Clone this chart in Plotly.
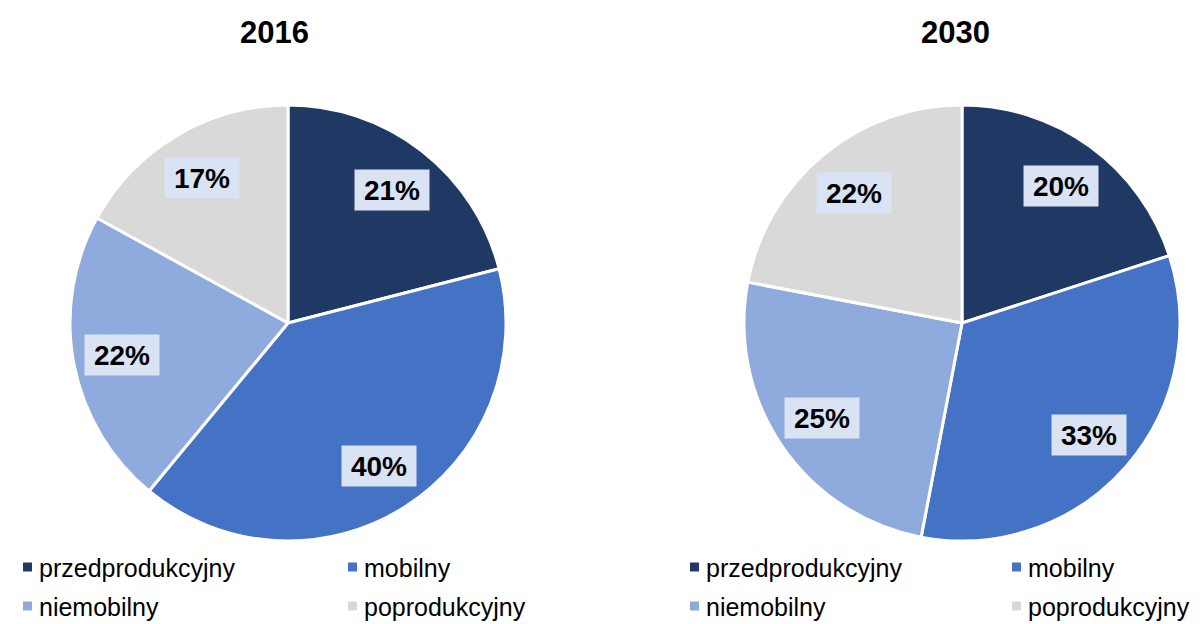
import math
import plotly.graph_objects as go

# ---- data ----
categories = ["przedprodukcyjny", "mobilny", "niemobilny", "poprodukcyjny"]
years = ["2016", "2030"]
values_2016 = [21, 40, 22, 17]
values_2030 = [20, 33, 25, 22]
colors = ["#203864", "#4472C4", "#8FAADC", "#D9D9D9"]
series = [values_2016, values_2030]

# ---- layout constants (screen pixels; page has 8px body margin) ----
OFF = 8
W, H = 1202 - OFF, 624 - OFF
R = 218
centers = [(288 - OFF, 323 - OFF), (962 - OFF, 323 - OFF)]
title_x = [274 - OFF, 955 - OFF]
title_y = 32 - OFF
label_ratio = 0.775
legend_cols = [[23 - OFF, 348 - OFF], [690 - OFF, 1012 - OFF]]
legend_rows = [567 - OFF, 606 - OFF]
FONT = "Liberation Sans, Arial, sans-serif"

fig = go.Figure()
annotations = []
shapes = []

for i, (vals, yr) in enumerate(zip(series, years)):
    cx, cy = centers[i]
    fig.add_trace(go.Pie(
        labels=categories,
        values=vals,
        sort=False,
        direction="clockwise",
        rotation=0,
        marker=dict(colors=colors, line=dict(color="white", width=3)),
        textinfo="none",
        hoverinfo="label+percent",
        showlegend=False,
        domain=dict(x=[(cx - R) / W, (cx + R) / W],
                    y=[1 - (cy + R) / H, 1 - (cy - R) / H]),
    ))
    # slice labels with boxes
    total = sum(vals)
    cum = 0
    for v in vals:
        mid = (cum + v / 2) / total * 2 * math.pi
        cum += v
        px = cx + label_ratio * R * math.sin(mid)
        py = cy - label_ratio * R * math.cos(mid)
        annotations.append(dict(
            x=px / W, y=1 - py / H, xref="paper", yref="paper",
            text=f"<b>{round(v / total * 100)}%</b>", showarrow=False,
            font=dict(family=FONT, size=28, color="#000000"),
            bgcolor="#DAE3F3", width=72, height=38,
            xanchor="center", yanchor="middle",
        ))
    # title
    annotations.append(dict(
        x=title_x[i] / W, y=1 - title_y / H, xref="paper", yref="paper",
        text=f"<b>{yr}</b>", showarrow=False,
        font=dict(family=FONT, size=31, color="#000000"),
        xanchor="center", yanchor="middle",
    ))
    # legend (2 x 2 grid)
    for k, (cat, col) in enumerate(zip(categories, colors)):
        mx = legend_cols[i][k % 2]
        my = legend_rows[k // 2]
        shapes.append(dict(
            type="rect", xref="paper", yref="paper",
            x0=mx / W, x1=(mx + 9) / W,
            y0=1 - (my + 4.5) / H, y1=1 - (my - 4.5) / H,
            fillcolor=col, line=dict(width=0),
        ))
        annotations.append(dict(
            x=(mx + 14) / W, y=1 - (my + 1) / H, xref="paper", yref="paper",
            text=cat, showarrow=False,
            font=dict(family=FONT, size=25, color="#000000"),
            xanchor="left", yanchor="middle",
        ))

fig.update_layout(
    width=W, height=H,
    margin=dict(l=0, r=0, t=0, b=0),
    paper_bgcolor="white",
    plot_bgcolor="white",
    annotations=annotations,
    shapes=shapes,
    showlegend=False,
)

fig.write_html("out.html")
